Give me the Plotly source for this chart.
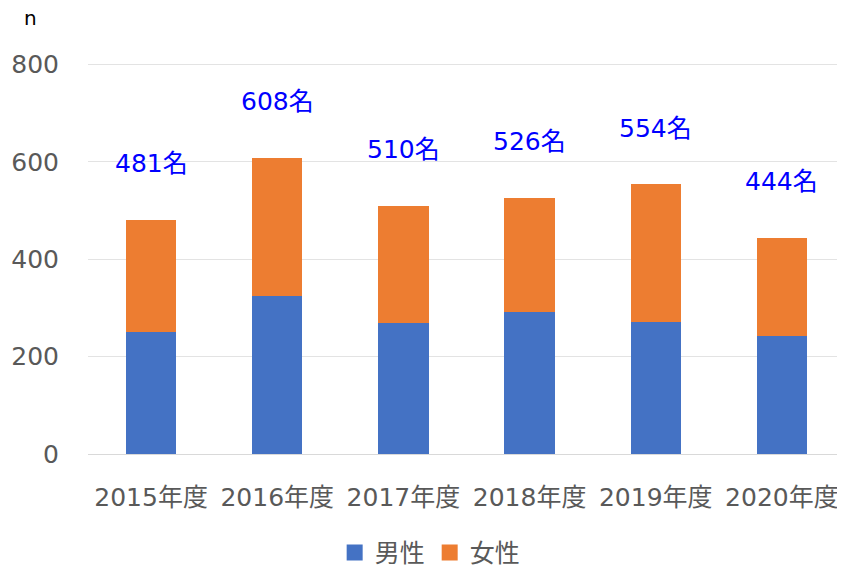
import plotly.graph_objects as go

categories = ["2015年度", "2016年度", "2017年度", "2018年度", "2019年度", "2020年度"]
male = [251, 324, 270, 291, 272, 242]
total = [481, 608, 510, 526, 554, 444]
female = [t - m for t, m in zip(total, male)]
total_labels = [f"{t}名" for t in total]

FONT = "DejaVu Sans, Noto Sans CJK JP"
GRAY = "#595959"
BLUE = "#4472C4"
ORANGE = "#ED7D31"

fig = go.Figure()
fig.add_trace(go.Bar(x=categories, y=male, name="男性", marker=dict(color=BLUE, line_width=0), showlegend=False))
fig.add_trace(go.Bar(x=categories, y=female, name="女性", marker=dict(color=ORANGE, line_width=0), showlegend=False))
# legend entries with square swatches
fig.add_trace(go.Scatter(x=[None], y=[None], mode="markers", name="男性",
                         marker=dict(symbol="square", size=19, color=BLUE)))
fig.add_trace(go.Scatter(x=[None], y=[None], mode="markers", name="女性",
                         marker=dict(symbol="square", size=19, color=ORANGE)))

for c, t, lab in zip(categories, total, total_labels):
    fig.add_annotation(x=c, y=t + 115, text=lab, showarrow=False,
                       font=dict(family=FONT, size=25, color="#0000FF"),
                       xanchor="center", yanchor="middle")

fig.add_annotation(xref="paper", yref="paper", x=-0.0766, y=1.112, text="n", showarrow=False,
                   font=dict(family=FONT, size=20, color="#000000"), xanchor="center", yanchor="middle")

fig.update_layout(
    barmode="stack",
    bargap=0.6,
    width=837, height=562,
    margin=dict(l=80, r=0, t=54, b=116, autoexpand=False),
    plot_bgcolor="white", paper_bgcolor="white",
    font=dict(family=FONT, size=25, color=GRAY),
    legend=dict(orientation="h", x=0.452, xanchor="center", y=-0.252, yanchor="middle",
                font=dict(family=FONT, size=25, color=GRAY), traceorder="normal"),
    xaxis=dict(showline=True, linecolor="#D9D9D9", linewidth=1, tickfont=dict(size=25, color=GRAY),
               ticks="", automargin=False, ticklabelstandoff=21),
    yaxis=dict(range=[0, 805], tickvals=[0, 200, 400, 600, 800], showgrid=True, gridcolor="#E3E3E3",
               zeroline=False, tickfont=dict(size=25, color=GRAY), ticks="", automargin=False,
               ticklabelstandoff=28),
)

fig.write_html("out.html")
